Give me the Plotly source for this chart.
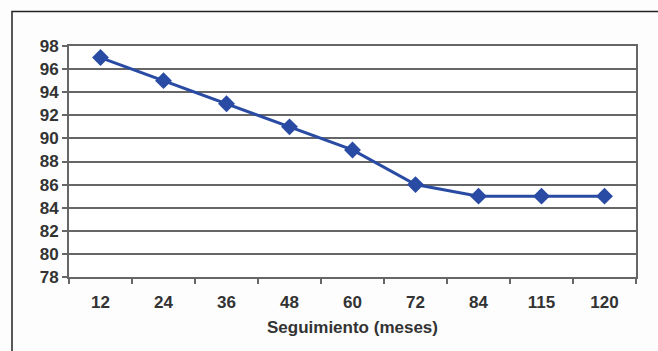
import plotly.graph_objects as go

meses = ["12", "24", "36", "48", "60", "72", "84", "115", "120"]
valores = [97, 95, 93, 91, 89, 86, 85, 85, 85]
y_ticks = [78, 80, 82, 84, 86, 88, 90, 92, 94, 96, 98]

W, H = 658, 351
L, R, T, B = 69, 22, 46, 74
pw, ph = W - L - R, H - T - B

def px(x):
    return (x - L) / pw

def py(y):
    return (H - B - y) / ph

FAM = "Liberation Sans, Arial, sans-serif"
TXT = "#333333"

fig = go.Figure()
fig.add_trace(go.Scatter(
    x=meses, y=valores, mode="lines+markers",
    line=dict(color="#2A4BA3", width=3),
    marker=dict(symbol="diamond", size=13, color="#2A4BA3"),
    showlegend=False,
))

fig.update_layout(
    width=W, height=H,
    margin=dict(l=L, r=R, t=T, b=B),
    paper_bgcolor="#fdfdfd",
    plot_bgcolor="#ffffff",
    font=dict(family=FAM, size=17, color=TXT),
    xaxis=dict(
        type="category",
        showline=True, linecolor="#666666", linewidth=2, mirror=True,
        ticks="outside", ticklen=5, tickcolor="#666666", tickwidth=1.5,
        tickson="boundaries",
        ticklabelstandoff=9,
        showgrid=False,
        tickfont=dict(family=FAM, size=17, color=TXT, weight="bold"),
        title=dict(text="Seguimiento (meses)", standoff=10,
                   font=dict(family=FAM, size=17, color=TXT, weight="bold")),
        range=[-0.5, len(meses) - 0.5],
    ),
    yaxis=dict(
        range=[78, 98],
        tickvals=y_ticks,
        showline=True, linecolor="#666666", linewidth=2, mirror=True,
        ticks="outside", ticklen=5, tickcolor="#666666", tickwidth=1.5,
        showgrid=True, gridcolor="#666666", gridwidth=1.5,
        zeroline=False,
        tickfont=dict(family=FAM, size=17, color=TXT, weight="bold"),
    ),
    shapes=[dict(
        type="path", xref="paper", yref="paper",
        path=f"M {px(12)} {py(352)} L {px(12)} {py(11.5)} L {px(660)} {py(11.5)}",
        line=dict(color="#222222", width=1.5),
    )],
)

fig.write_html("out.html")
